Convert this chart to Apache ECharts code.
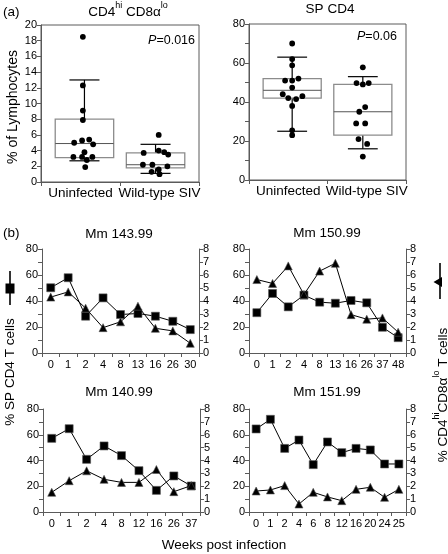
<!DOCTYPE html>
<html><head><meta charset="utf-8">
<script src="https://cdn.jsdelivr.net/npm/echarts@6/dist/echarts.min.js"></script>
<style>html,body{margin:0;padding:0;background:#fff}#c{width:448px;height:554px}</style>
</head><body><div id="c"></div>
<script>
// ---------------- DATA ----------------
// Panel (a)
const groupLabels = ['Uninfected', 'Wild-type SIV'];
// CD4hi CD8alo (% of lymphocytes)
const cd4hiUninfected = [18.5, 12.3, 9.1, 7.9, 5.0, 5.3, 5.4, 4.8, 3.8, 3.2, 3.2, 3.2, 2.8, 1.9];
const cd4hiUninfectedJitter = [-0.02, -0.02, -0.02, -0.02, -0.13, -0.03, 0.06, 0.11, 0.0, -0.14, -0.03, 0.1, 0.03, 0.01];
const cd4hiWildType = [6.0, 4.0, 3.8, 3.7, 3.5, 2.2, 2.2, 2.0, 1.6, 1.3, 1.0];
const cd4hiWildTypeJitter = [0.04, 0.04, 0.11, -0.15, 0.16, -0.16, -0.04, 0.15, 0.04, -0.05, 0.05];
// box stats: [lower whisker, Q1, median, Q3, upper whisker]
const cd4hiUninfectedBox = [2.7, 3.1, 4.9, 8.0, 13.0];
const cd4hiWildTypeBox = [1.1, 1.8, 2.2, 3.7, 4.8];
// SP CD4 (% of lymphocytes)
const spUninfected = [70, 62, 58.8, 51, 51, 52, 47.4, 44, 43, 42, 41.5, 38, 25.5, 23];
const spUninfectedJitter = [0, 0, 0, -0.09, 0, 0.08, 0, -0.12, 0.13, -0.05, 0.05, 0, 0, 0];
const spWildType = [57.8, 49.7, 49, 49.7, 37.4, 35, 29, 29, 21, 18.5, 12];
const spWildTypeJitter = [0, -0.08, 0, 0.075, 0.03, -0.045, -0.085, 0.03, -0.055, 0.055, 0];
const spUninfectedBox = [25, 42, 46, 52, 63];
const spWildTypeBox = [16, 23, 35, 49, 53];

// Panel (b)
const weeks143 = ['0', '1', '2', '4', '8', '13', '16', '26', '30'];
const sp143 = [50.2, 57.9, 28.3, 42.4, 29.6, 30.4, 28.3, 24.4, 18.0];
const hi143 = [4.3, 4.7, 3.45, 1.95, 2.4, 3.6, 1.9, 1.7, 0.75];

const weeks150 = ['0', '1', '2', '4', '8', '13', '16', '26', '37', '48'];
const sp150 = [31, 45.8, 35.5, 44.5, 39.1, 38.3, 40.4, 38.6, 19.8, 11.8];
const hi150 = [5.65, 5.35, 6.7, 4.5, 6.3, 6.9, 2.95, 2.6, 2.7, 1.6];

const weeks140 = ['0', '1', '2', '4', '8', '12', '16', '26', '37'];
const sp140 = [57.2, 64.7, 40.9, 51.3, 43.8, 32.1, 16.8, 28.0, 20.2];
const hi140 = [1.53, 2.43, 3.2, 2.54, 2.3, 2.3, 3.3, 1.58, 2.05];

const weeks151 = ['0', '1', '2', '4', '6', '8', '12', '16', '20', '24', '25'];
const sp151 = [64.5, 72.0, 49.4, 55.9, 36.8, 54.4, 46.1, 49.4, 48.2, 37.3, 37.3];
const hi151 = [1.63, 1.71, 2.05, 0.62, 1.53, 1.17, 0.88, 1.76, 1.92, 1.14, 1.76];

// ---------------- STYLE ----------------
const FONT = '"Liberation Sans", Arial, Helvetica, sans-serif';
const AXIS_COLOR = '#5a5a5a';
const BIG = 13.5;
const TICK = 11;
const BOX_SHIFT = 0.05;

const chart = echarts.init(document.getElementById('c'), null, {renderer: 'canvas'});

const grids = [
  {left: 41, top: 25, width: 158, height: 157, show: true, borderColor: AXIS_COLOR, borderWidth: 1},
  {left: 249, top: 24, width: 157, height: 156, show: true, borderColor: AXIS_COLOR, borderWidth: 1},
  {left: 42, top: 249, width: 157, height: 104},
  {left: 249, top: 249, width: 157, height: 104},
  {left: 43, top: 409, width: 157, height: 103},
  {left: 249, top: 409, width: 157, height: 103}
].map(g => Object.assign({outerBoundsMode: 'none', containLabel: false}, g));

function catAxis(gi, data, labelSize, margin) {
  return {
    gridIndex: gi, type: 'category', data: data, boundaryGap: true,
    axisLine: {show: true, lineStyle: {color: AXIS_COLOR, width: 1}},
    axisTick: {show: true, length: 4, inside: false, lineStyle: {color: AXIS_COLOR}},
    axisLabel: {show: true, interval: 0, fontSize: labelSize, fontFamily: FONT, color: '#000', margin: margin},
    splitLine: {show: false}
  };
}
function valAxis(gi, max, interval, labelEvery, position) {
  return {
    gridIndex: gi, type: 'value', min: 0, max: max, interval: interval, position: position || 'left',
    axisLine: {show: true, lineStyle: {color: AXIS_COLOR, width: 1}},
    axisTick: {show: true, length: 4, inside: false, lineStyle: {color: AXIS_COLOR}},
    axisLabel: {show: true, fontSize: TICK, fontFamily: FONT, color: '#000', margin: 4,
      formatter: v => (Math.round(v / interval) % labelEvery === 0 ? String(v) : '')},
    splitLine: {show: false}
  };
}

const xAxes = [
  catAxis(0, groupLabels, BIG, 4),
  catAxis(1, groupLabels, BIG, 4),
  catAxis(2, weeks143, TICK, 6),
  catAxis(3, weeks150, TICK, 6),
  catAxis(4, weeks140, TICK, 6),
  catAxis(5, weeks151, TICK, 6)
];
const yAxes = [
  valAxis(0, 20, 2, 1),
  valAxis(1, 80, 10, 2),
  valAxis(2, 80, 10, 2), valAxis(2, 8, 1, 1, 'right'),
  valAxis(3, 80, 10, 2), valAxis(3, 8, 1, 1, 'right'),
  valAxis(4, 80, 10, 2), valAxis(4, 8, 1, 1, 'right'),
  valAxis(5, 80, 10, 2), valAxis(5, 8, 1, 1, 'right')
];

function boxSeries(gi, cat, stats) {
  return {
    type: 'custom', xAxisIndex: gi, yAxisIndex: gi, z: 2,
    dimensions: ['c', 'lo', 'q1', 'med', 'q3', 'hi'],
    encode: {x: 0, y: [1, 2, 3, 4, 5]},
    data: [[cat].concat(stats)],
    renderItem: function (params, api) {
      const c = api.value(0);
      const band = api.size([1, 0])[0];
      const xc = api.coord([c, 0])[0] + (c === 0 ? 1 : -1) * BOX_SHIFT * band;
      const y = k => api.coord([c, api.value(k)])[1];
      const bw = band * 0.74, cw = band * 0.38;
      const blk = {stroke: '#000', lineWidth: 1.2};
      return {type: 'group', children: [
        {type: 'line', shape: {x1: xc, y1: y(5), x2: xc, y2: y(4)}, style: blk},
        {type: 'line', shape: {x1: xc, y1: y(2), x2: xc, y2: y(1)}, style: blk},
        {type: 'line', shape: {x1: xc - cw / 2, y1: y(5), x2: xc + cw / 2, y2: y(5)}, style: blk},
        {type: 'line', shape: {x1: xc - cw / 2, y1: y(1), x2: xc + cw / 2, y2: y(1)}, style: blk},
        {type: 'rect', shape: {x: xc - bw / 2, y: y(4), width: bw, height: y(2) - y(4)},
          style: {fill: 'rgba(0,0,0,0)', stroke: '#8c8c8c', lineWidth: 1.3}},
        {type: 'line', shape: {x1: xc - bw / 2, y1: y(3), x2: xc + bw / 2, y2: y(3)},
          style: {stroke: '#555', lineWidth: 1}}
      ]};
    }
  };
}
function dotSeries(gi, cat, values, jitter) {
  return {
    type: 'custom', xAxisIndex: gi, yAxisIndex: gi, z: 3,
    dimensions: ['c', 'v', 'j'],
    encode: {x: 0, y: 1},
    data: values.map((v, i) => [cat, v, jitter[i]]),
    renderItem: function (params, api) {
      const c = api.value(0);
      const band = api.size([1, 0])[0];
      const p = api.coord([c, api.value(1)]);
      const xc = p[0] + (c === 0 ? 1 : -1) * BOX_SHIFT * band + api.value(2) * band;
      return {type: 'circle', shape: {cx: xc, cy: p[1], r: 2.9}, style: {fill: '#000'}};
    }
  };
}
function lineSeries(gi, yi, data, symbol, size) {
  return {
    type: 'line', xAxisIndex: gi, yAxisIndex: yi, data: data,
    symbol: symbol, symbolSize: size, showSymbol: true, animation: false,
    lineStyle: {color: '#000', width: 1},
    itemStyle: {color: '#000', borderColor: '#555', borderWidth: 0.6},
    z: symbol === 'rect' ? 3 : 4
  };
}

const series = [
  boxSeries(0, 0, cd4hiUninfectedBox), boxSeries(0, 1, cd4hiWildTypeBox),
  dotSeries(0, 0, cd4hiUninfected, cd4hiUninfectedJitter), dotSeries(0, 1, cd4hiWildType, cd4hiWildTypeJitter),
  boxSeries(1, 0, spUninfectedBox), boxSeries(1, 1, spWildTypeBox),
  dotSeries(1, 0, spUninfected, spUninfectedJitter), dotSeries(1, 1, spWildType, spWildTypeJitter),
  lineSeries(2, 2, sp143, 'rect', 8), lineSeries(2, 3, hi143, 'triangle', 8),
  lineSeries(3, 4, sp150, 'rect', 8), lineSeries(3, 5, hi150, 'triangle', 8),
  lineSeries(4, 6, sp140, 'rect', 8), lineSeries(4, 7, hi140, 'triangle', 8),
  lineSeries(5, 8, sp151, 'rect', 8), lineSeries(5, 9, hi151, 'triangle', 8)
];

function txt(x, y, text, o) {
  o = o || {};
  return {
    type: 'text', x: x, y: y, rotation: o.rot || 0, z: 10,
    style: Object.assign({
      text: text, fontSize: o.size || BIG, fontFamily: FONT, fill: '#000',
      align: o.align || 'center', verticalAlign: 'middle',
      textAlign: o.align || 'center', textVerticalAlign: 'middle'
    }, o.style || {})
  };
}
const supRich = {
  m: {fontSize: BIG, fontFamily: FONT, fill: '#000', color: '#000', lineHeight: 18, verticalAlign: 'bottom'},
  s: {fontSize: 9, fontFamily: FONT, fill: '#000', color: '#000', verticalAlign: 'top'}
};
const pRich = {
  i: {fontSize: 12.5, fontFamily: FONT, fontStyle: 'italic', fill: '#000', color: '#000'},
  n: {fontSize: 12.5, fontFamily: FONT, fill: '#000', color: '#000'}
};

const graphic = [
  txt(3, 12, '(a)', {align: 'left'}),
  txt(3, 233, '(b)', {align: 'left'}),
  txt(128, 10, '{m|CD4}{s|hi}{m| CD8α}{s|lo}', {style: {rich: supRich}}),
  txt(330, 9, 'SP CD4'),
  txt(13, 107, '% of Lymphocytes', {rot: Math.PI / 2, size: 14}),
  txt(195, 41, '{i|P}{n|=0.016}', {align: 'right', style: {rich: pRich}}),
  txt(397, 37, '{i|P}{n|=0.06}', {align: 'right', style: {rich: pRich}}),
  txt(119, 234, 'Mm 143.99'),
  txt(327, 233, 'Mm 150.99'),
  txt(119, 392, 'Mm 140.99'),
  txt(327, 392, 'Mm 151.99'),
  txt(224, 545, 'Weeks post infection'),
  txt(10, 372, '% SP CD4 T cells', {rot: Math.PI / 2}),
  txt(441, 395, '{m|% CD4}{s|hi}{m|CD8α}{s|lo}{m| T cells}', {rot: Math.PI / 2, style: {rich: supRich}}),
  // side key marks
  {type: 'line', z: 10, shape: {x1: 10, y1: 271, x2: 10, y2: 305}, style: {stroke: '#000', lineWidth: 1.6}},
  {type: 'rect', z: 11, shape: {x: 5.5, y: 283.5, width: 9, height: 10}, style: {fill: '#000'}},
  {type: 'line', z: 10, shape: {x1: 440, y1: 263, x2: 440, y2: 299}, style: {stroke: '#000', lineWidth: 1.6}},
  {type: 'polygon', z: 11, shape: {points: [[433.5, 282], [442, 277], [442, 287]]}, style: {fill: '#000'}}
];

chart.setOption({
  animation: false,
  backgroundColor: '#fff',
  textStyle: {fontFamily: FONT},
  grid: grids,
  xAxis: xAxes,
  yAxis: yAxes,
  series: series,
  graphic: graphic
});
</script>
</body></html>
